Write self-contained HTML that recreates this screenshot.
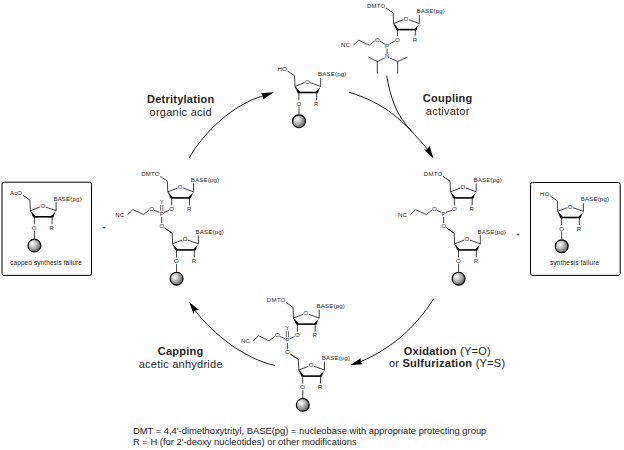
<!DOCTYPE html>
<html><head><meta charset="utf-8">
<style>
html,body{margin:0;padding:0;background:#fff;}
body{width:624px;height:450px;overflow:hidden;position:relative;}
svg{position:absolute;left:0;top:0;}
text{font-family:"Liberation Sans",sans-serif;stroke:none;}
.sl{fill:#2a2a2a;}
</style></head><body>
<svg width="624" height="450" viewBox="0 0 624 450">
<defs>
<radialGradient id="bg" cx="0.42" cy="0.42" r="0.62" fx="0.33" fy="0.33">
<stop offset="0" stop-color="#fafafa"/>
<stop offset="0.3" stop-color="#d8d8d8"/>
<stop offset="0.75" stop-color="#8a8a8a"/>
<stop offset="1" stop-color="#404040"/>
</radialGradient>
</defs>
<rect x="2" y="182.2" width="89.5" height="93.2" rx="2" fill="none" stroke="#000" stroke-width="1"/>
<rect x="530.5" y="182.5" width="89.7" height="92.9" rx="2" fill="none" stroke="#000" stroke-width="1"/>
<g fill="none" stroke="#000" stroke-linecap="butt" stroke-linejoin="miter">
<path d="M393.60,23.50 L403.20,19.80" stroke-width="0.75"/>
<path d="M408.90,19.80 L419.30,23.50" stroke-width="0.75"/>
<text x="406.08" y="20.92" font-size="6.1" letter-spacing="0.17" text-anchor="middle" class="sl">O</text>
<path d="M393.80,23.37 L398.60,28.90 L396.40,30.30 L393.40,23.63Z" fill="#000" stroke="none"/>
<path d="M419.10,23.37 L416.50,30.30 L414.30,28.90 L419.50,23.63Z" fill="#000" stroke="none"/>
<path d="M397.20,29.60 L415.70,29.60" stroke-width="1.6"/>
<path d="M393.60,23.50 L393.10,12.80 L386.10,8.10" stroke-width="0.75"/>
<text x="385.47" y="7.92" font-size="6.1" letter-spacing="0.17" text-anchor="end" class="sl">DMTO</text>
<path d="M419.30,23.50 L419.30,15.10" stroke-width="0.75"/>
<text x="416.60" y="13.42" font-size="6.1" letter-spacing="0.17" text-anchor="start" class="sl">BASE(pg)</text>
<path d="M415.40,29.60 L415.20,35.90" stroke-width="0.75"/>
<text x="414.99" y="41.72" font-size="6.1" letter-spacing="0.17" text-anchor="middle" class="sl">R</text>
<path d="M397.50,29.60 L397.50,35.90" stroke-width="0.75"/>
<text x="397.49" y="41.62" font-size="6.1" letter-spacing="0.17" text-anchor="middle" class="sl">O</text>
<text x="387.19" y="47.92" font-size="6.1" letter-spacing="0.17" text-anchor="middle" class="sl">P</text>
<path d="M389.40,44.10 L394.80,41.10" stroke-width="0.75"/>
<text x="377.49" y="41.72" font-size="6.1" letter-spacing="0.17" text-anchor="middle" class="sl">O</text>
<path d="M384.80,44.10 L379.80,40.90" stroke-width="0.75"/>
<path d="M374.80,40.90 L369.30,45.20 L358.70,40.20 L353.40,45.20" stroke-width="0.75"/>
<text x="345.69" y="47.42" font-size="6.1" letter-spacing="0.17" text-anchor="middle" class="sl">NC</text>
<path d="M387.10,48.50 L387.10,53.70" stroke-width="0.75"/>
<text x="387.19" y="58.42" font-size="6.1" letter-spacing="0.17" text-anchor="middle" class="sl">N</text>
<path d="M384.60,58.00 L377.30,61.50" stroke-width="0.75"/>
<path d="M368.40,57.10 L377.30,61.50 L377.30,73.70" stroke-width="0.75"/>
<path d="M389.60,58.00 L397.70,61.50" stroke-width="0.75"/>
<path d="M407.50,57.10 L397.70,61.50 L397.70,73.70" stroke-width="0.75"/>
<path d="M295.00,86.40 L304.60,82.70" stroke-width="0.75"/>
<path d="M310.30,82.70 L320.70,86.40" stroke-width="0.75"/>
<text x="307.48" y="83.82" font-size="6.1" letter-spacing="0.17" text-anchor="middle" class="sl">O</text>
<path d="M295.20,86.27 L300.00,91.80 L297.80,93.20 L294.80,86.53Z" fill="#000" stroke="none"/>
<path d="M320.50,86.27 L317.90,93.20 L315.70,91.80 L320.90,86.53Z" fill="#000" stroke="none"/>
<path d="M298.60,92.50 L317.10,92.50" stroke-width="1.6"/>
<path d="M295.00,86.40 L294.50,75.70 L287.50,71.00" stroke-width="0.75"/>
<text x="286.87" y="70.82" font-size="6.1" letter-spacing="0.17" text-anchor="end" class="sl">HO</text>
<path d="M320.70,86.40 L320.70,78.00" stroke-width="0.75"/>
<text x="318.00" y="76.32" font-size="6.1" letter-spacing="0.17" text-anchor="start" class="sl">BASE(pg)</text>
<path d="M316.80,92.50 L316.60,100.00" stroke-width="0.75"/>
<text x="316.38" y="105.82" font-size="6.1" letter-spacing="0.17" text-anchor="middle" class="sl">R</text>
<path d="M298.90,92.50 L298.90,100.00" stroke-width="0.75"/>
<text x="298.88" y="105.72" font-size="6.1" letter-spacing="0.17" text-anchor="middle" class="sl">O</text>
<path d="M299.00,106.50 L299.00,114.50" stroke-width="0.75"/>
<circle cx="299.00" cy="121.30" r="6.45" fill="url(#bg)" stroke="#000" stroke-width="1.1"/>
<path d="M167.80,191.80 L177.40,188.10" stroke-width="0.75"/>
<path d="M183.10,188.10 L193.50,191.80" stroke-width="0.75"/>
<text x="180.29" y="189.22" font-size="6.1" letter-spacing="0.17" text-anchor="middle" class="sl">O</text>
<path d="M168.00,191.67 L172.80,197.20 L170.60,198.60 L167.60,191.93Z" fill="#000" stroke="none"/>
<path d="M193.30,191.67 L190.70,198.60 L188.50,197.20 L193.70,191.93Z" fill="#000" stroke="none"/>
<path d="M171.40,197.90 L189.90,197.90" stroke-width="1.6"/>
<path d="M167.80,191.80 L167.30,181.10 L160.30,176.40" stroke-width="0.75"/>
<text x="159.67" y="176.22" font-size="6.1" letter-spacing="0.17" text-anchor="end" class="sl">DMTO</text>
<path d="M193.50,191.80 L193.50,183.40" stroke-width="0.75"/>
<text x="190.80" y="181.72" font-size="6.1" letter-spacing="0.17" text-anchor="start" class="sl">BASE(pg)</text>
<path d="M189.60,197.90 L189.40,205.40" stroke-width="0.75"/>
<text x="189.19" y="211.22" font-size="6.1" letter-spacing="0.17" text-anchor="middle" class="sl">R</text>
<path d="M171.70,197.90 L171.70,205.40" stroke-width="0.75"/>
<text x="171.69" y="211.12" font-size="6.1" letter-spacing="0.17" text-anchor="middle" class="sl">O</text>
<text x="161.84" y="216.22" font-size="6.1" letter-spacing="0.17" text-anchor="middle" class="sl">P</text>
<path d="M164.05,212.40 L169.00,210.50" stroke-width="0.75"/>
<text x="151.69" y="211.12" font-size="6.1" letter-spacing="0.17" text-anchor="middle" class="sl">O</text>
<path d="M159.45,212.40 L154.00,210.30" stroke-width="0.75"/>
<path d="M149.00,210.30 L143.50,214.60 L132.90,209.60 L127.60,214.60" stroke-width="0.75"/>
<text x="119.89" y="216.82" font-size="6.1" letter-spacing="0.17" text-anchor="middle" class="sl">NC</text>
<text x="161.84" y="204.22" font-size="6.1" letter-spacing="0.17" text-anchor="middle" class="sl">Y</text>
<path d="M160.65,205.00 L160.65,210.70" stroke-width="0.6"/>
<path d="M162.85,205.00 L162.85,210.70" stroke-width="0.6"/>
<path d="M161.75,216.80 L161.75,223.20" stroke-width="0.75"/>
<text x="161.84" y="228.22" font-size="6.1" letter-spacing="0.17" text-anchor="middle" class="sl">O</text>
<path d="M172.60,243.80 L182.20,240.10" stroke-width="0.75"/>
<path d="M187.90,240.10 L198.30,243.80" stroke-width="0.75"/>
<text x="185.09" y="241.22" font-size="6.1" letter-spacing="0.17" text-anchor="middle" class="sl">O</text>
<path d="M172.80,243.67 L177.60,249.20 L175.40,250.60 L172.40,243.93Z" fill="#000" stroke="none"/>
<path d="M198.10,243.67 L195.50,250.60 L193.30,249.20 L198.50,243.93Z" fill="#000" stroke="none"/>
<path d="M176.20,249.90 L194.70,249.90" stroke-width="1.6"/>
<path d="M172.60,243.80 L172.10,233.10 L165.10,228.40" stroke-width="0.75"/>
<path d="M198.30,243.80 L198.30,235.40" stroke-width="0.75"/>
<text x="195.60" y="233.72" font-size="6.1" letter-spacing="0.17" text-anchor="start" class="sl">BASE(pg)</text>
<path d="M194.40,249.90 L194.20,257.40" stroke-width="0.75"/>
<text x="193.99" y="263.22" font-size="6.1" letter-spacing="0.17" text-anchor="middle" class="sl">R</text>
<path d="M176.50,249.90 L176.50,257.40" stroke-width="0.75"/>
<text x="176.49" y="263.12" font-size="6.1" letter-spacing="0.17" text-anchor="middle" class="sl">O</text>
<path d="M176.60,263.90 L176.60,271.90" stroke-width="0.75"/>
<circle cx="176.60" cy="278.70" r="6.45" fill="url(#bg)" stroke="#000" stroke-width="1.1"/>
<path d="M164.35,227.70 L172.00,233.10" stroke-width="0.75"/>
<path d="M450.50,191.80 L460.10,188.10" stroke-width="0.75"/>
<path d="M465.80,188.10 L476.20,191.80" stroke-width="0.75"/>
<text x="462.98" y="189.22" font-size="6.1" letter-spacing="0.17" text-anchor="middle" class="sl">O</text>
<path d="M450.70,191.67 L455.50,197.20 L453.30,198.60 L450.30,191.93Z" fill="#000" stroke="none"/>
<path d="M476.00,191.67 L473.40,198.60 L471.20,197.20 L476.40,191.93Z" fill="#000" stroke="none"/>
<path d="M454.10,197.90 L472.60,197.90" stroke-width="1.6"/>
<path d="M450.50,191.80 L450.00,181.10 L443.00,176.40" stroke-width="0.75"/>
<text x="442.37" y="176.22" font-size="6.1" letter-spacing="0.17" text-anchor="end" class="sl">DMTO</text>
<path d="M476.20,191.80 L476.20,183.40" stroke-width="0.75"/>
<text x="473.50" y="181.72" font-size="6.1" letter-spacing="0.17" text-anchor="start" class="sl">BASE(pg)</text>
<path d="M472.30,197.90 L472.10,205.40" stroke-width="0.75"/>
<text x="471.88" y="211.22" font-size="6.1" letter-spacing="0.17" text-anchor="middle" class="sl">R</text>
<path d="M454.40,197.90 L454.40,205.40" stroke-width="0.75"/>
<text x="454.38" y="211.12" font-size="6.1" letter-spacing="0.17" text-anchor="middle" class="sl">O</text>
<text x="443.69" y="216.22" font-size="6.1" letter-spacing="0.17" text-anchor="middle" class="sl">P</text>
<path d="M445.90,212.40 L451.70,210.50" stroke-width="0.75"/>
<text x="434.38" y="211.12" font-size="6.1" letter-spacing="0.17" text-anchor="middle" class="sl">O</text>
<path d="M441.30,212.40 L436.70,210.30" stroke-width="0.75"/>
<path d="M431.70,210.30 L426.20,214.60 L415.60,209.60 L410.30,214.60" stroke-width="0.75"/>
<text x="402.58" y="216.82" font-size="6.1" letter-spacing="0.17" text-anchor="middle" class="sl">NC</text>
<path d="M443.60,216.80 L443.60,223.20" stroke-width="0.75"/>
<text x="443.69" y="228.22" font-size="6.1" letter-spacing="0.17" text-anchor="middle" class="sl">O</text>
<path d="M454.60,243.80 L464.20,240.10" stroke-width="0.75"/>
<path d="M469.90,240.10 L480.30,243.80" stroke-width="0.75"/>
<text x="467.08" y="241.22" font-size="6.1" letter-spacing="0.17" text-anchor="middle" class="sl">O</text>
<path d="M454.80,243.67 L459.60,249.20 L457.40,250.60 L454.40,243.93Z" fill="#000" stroke="none"/>
<path d="M480.10,243.67 L477.50,250.60 L475.30,249.20 L480.50,243.93Z" fill="#000" stroke="none"/>
<path d="M458.20,249.90 L476.70,249.90" stroke-width="1.6"/>
<path d="M454.60,243.80 L454.10,233.10 L447.10,228.40" stroke-width="0.75"/>
<path d="M480.30,243.80 L480.30,235.40" stroke-width="0.75"/>
<text x="477.60" y="233.72" font-size="6.1" letter-spacing="0.17" text-anchor="start" class="sl">BASE(pg)</text>
<path d="M476.40,249.90 L476.20,257.40" stroke-width="0.75"/>
<text x="475.99" y="263.22" font-size="6.1" letter-spacing="0.17" text-anchor="middle" class="sl">R</text>
<path d="M458.50,249.90 L458.50,257.40" stroke-width="0.75"/>
<text x="458.49" y="263.12" font-size="6.1" letter-spacing="0.17" text-anchor="middle" class="sl">O</text>
<path d="M458.60,263.90 L458.60,271.90" stroke-width="0.75"/>
<circle cx="458.60" cy="278.70" r="6.45" fill="url(#bg)" stroke="#000" stroke-width="1.1"/>
<path d="M446.20,227.70 L454.00,233.10" stroke-width="0.75"/>
<path d="M293.50,318.00 L303.10,314.30" stroke-width="0.75"/>
<path d="M308.80,314.30 L319.20,318.00" stroke-width="0.75"/>
<text x="305.98" y="315.42" font-size="6.1" letter-spacing="0.17" text-anchor="middle" class="sl">O</text>
<path d="M293.70,317.87 L298.50,323.40 L296.30,324.80 L293.30,318.13Z" fill="#000" stroke="none"/>
<path d="M319.00,317.87 L316.40,324.80 L314.20,323.40 L319.40,318.13Z" fill="#000" stroke="none"/>
<path d="M297.10,324.10 L315.60,324.10" stroke-width="1.6"/>
<path d="M293.50,318.00 L293.00,307.30 L286.00,302.60" stroke-width="0.75"/>
<text x="285.37" y="302.42" font-size="6.1" letter-spacing="0.17" text-anchor="end" class="sl">DMTO</text>
<path d="M319.20,318.00 L319.20,309.60" stroke-width="0.75"/>
<text x="316.50" y="307.92" font-size="6.1" letter-spacing="0.17" text-anchor="start" class="sl">BASE(pg)</text>
<path d="M315.30,324.10 L315.10,331.60" stroke-width="0.75"/>
<text x="314.88" y="337.42" font-size="6.1" letter-spacing="0.17" text-anchor="middle" class="sl">R</text>
<path d="M297.40,324.10 L297.40,331.60" stroke-width="0.75"/>
<text x="297.38" y="337.32" font-size="6.1" letter-spacing="0.17" text-anchor="middle" class="sl">O</text>
<text x="287.48" y="342.42" font-size="6.1" letter-spacing="0.17" text-anchor="middle" class="sl">P</text>
<path d="M289.70,338.60 L294.70,336.70" stroke-width="0.75"/>
<text x="277.38" y="337.32" font-size="6.1" letter-spacing="0.17" text-anchor="middle" class="sl">O</text>
<path d="M285.10,338.60 L279.70,336.50" stroke-width="0.75"/>
<path d="M274.70,336.50 L269.20,340.80 L258.60,335.80 L253.30,340.80" stroke-width="0.75"/>
<text x="245.59" y="343.02" font-size="6.1" letter-spacing="0.17" text-anchor="middle" class="sl">NC</text>
<text x="287.48" y="330.42" font-size="6.1" letter-spacing="0.17" text-anchor="middle" class="sl">Y</text>
<path d="M286.30,331.20 L286.30,336.90" stroke-width="0.6"/>
<path d="M288.50,331.20 L288.50,336.90" stroke-width="0.6"/>
<path d="M287.40,343.00 L287.40,349.40" stroke-width="0.75"/>
<text x="287.48" y="354.42" font-size="6.1" letter-spacing="0.17" text-anchor="middle" class="sl">O</text>
<path d="M298.80,370.00 L308.40,366.30" stroke-width="0.75"/>
<path d="M314.10,366.30 L324.50,370.00" stroke-width="0.75"/>
<text x="311.28" y="367.42" font-size="6.1" letter-spacing="0.17" text-anchor="middle" class="sl">O</text>
<path d="M299.00,369.87 L303.80,375.40 L301.60,376.80 L298.60,370.13Z" fill="#000" stroke="none"/>
<path d="M324.30,369.87 L321.70,376.80 L319.50,375.40 L324.70,370.13Z" fill="#000" stroke="none"/>
<path d="M302.40,376.10 L320.90,376.10" stroke-width="1.6"/>
<path d="M298.80,370.00 L298.30,359.30 L291.30,354.60" stroke-width="0.75"/>
<path d="M324.50,370.00 L324.50,361.60" stroke-width="0.75"/>
<text x="321.80" y="359.92" font-size="6.1" letter-spacing="0.17" text-anchor="start" class="sl">BASE(pg)</text>
<path d="M320.60,376.10 L320.40,383.60" stroke-width="0.75"/>
<text x="320.19" y="389.42" font-size="6.1" letter-spacing="0.17" text-anchor="middle" class="sl">R</text>
<path d="M302.70,376.10 L302.70,383.60" stroke-width="0.75"/>
<text x="302.69" y="389.32" font-size="6.1" letter-spacing="0.17" text-anchor="middle" class="sl">O</text>
<path d="M302.80,390.10 L302.80,398.10" stroke-width="0.75"/>
<circle cx="302.80" cy="404.90" r="6.45" fill="url(#bg)" stroke="#000" stroke-width="1.1"/>
<path d="M290.00,353.90 L298.20,359.30" stroke-width="0.75"/>
<path d="M30.40,210.70 L40.00,207.00" stroke-width="0.75"/>
<path d="M45.70,207.00 L56.10,210.70" stroke-width="0.75"/>
<text x="42.88" y="208.12" font-size="6.1" letter-spacing="0.17" text-anchor="middle" class="sl">O</text>
<path d="M30.60,210.57 L35.40,216.10 L33.20,217.50 L30.20,210.83Z" fill="#000" stroke="none"/>
<path d="M55.90,210.57 L53.30,217.50 L51.10,216.10 L56.30,210.83Z" fill="#000" stroke="none"/>
<path d="M34.00,216.80 L52.50,216.80" stroke-width="1.6"/>
<path d="M30.40,210.70 L29.90,200.00 L22.90,195.30" stroke-width="0.75"/>
<text x="22.27" y="195.12" font-size="6.1" letter-spacing="0.17" text-anchor="end" class="sl">AcO</text>
<path d="M56.10,210.70 L56.10,202.30" stroke-width="0.75"/>
<text x="53.40" y="200.62" font-size="6.1" letter-spacing="0.17" text-anchor="start" class="sl">BASE(pg)</text>
<path d="M52.20,216.80 L52.00,224.30" stroke-width="0.75"/>
<text x="51.79" y="230.12" font-size="6.1" letter-spacing="0.17" text-anchor="middle" class="sl">R</text>
<path d="M34.30,216.80 L34.30,224.30" stroke-width="0.75"/>
<text x="34.28" y="230.02" font-size="6.1" letter-spacing="0.17" text-anchor="middle" class="sl">O</text>
<path d="M34.40,230.80 L34.40,238.80" stroke-width="0.75"/>
<circle cx="34.40" cy="245.60" r="6.45" fill="url(#bg)" stroke="#000" stroke-width="1.1"/>
<path d="M557.70,211.40 L567.30,207.70" stroke-width="0.75"/>
<path d="M573.00,207.70 L583.40,211.40" stroke-width="0.75"/>
<text x="570.19" y="208.82" font-size="6.1" letter-spacing="0.17" text-anchor="middle" class="sl">O</text>
<path d="M557.90,211.27 L562.70,216.80 L560.50,218.20 L557.50,211.53Z" fill="#000" stroke="none"/>
<path d="M583.20,211.27 L580.60,218.20 L578.40,216.80 L583.60,211.53Z" fill="#000" stroke="none"/>
<path d="M561.30,217.50 L579.80,217.50" stroke-width="1.6"/>
<path d="M557.70,211.40 L557.20,200.70 L550.20,196.00" stroke-width="0.75"/>
<text x="549.57" y="195.82" font-size="6.1" letter-spacing="0.17" text-anchor="end" class="sl">HO</text>
<path d="M583.40,211.40 L583.40,203.00" stroke-width="0.75"/>
<text x="580.70" y="201.32" font-size="6.1" letter-spacing="0.17" text-anchor="start" class="sl">BASE(pg)</text>
<path d="M579.50,217.50 L579.30,225.00" stroke-width="0.75"/>
<text x="579.09" y="230.82" font-size="6.1" letter-spacing="0.17" text-anchor="middle" class="sl">R</text>
<path d="M561.60,217.50 L561.60,225.00" stroke-width="0.75"/>
<text x="561.59" y="230.72" font-size="6.1" letter-spacing="0.17" text-anchor="middle" class="sl">O</text>
<path d="M561.70,231.50 L561.70,239.50" stroke-width="0.75"/>
<circle cx="561.70" cy="246.30" r="6.45" fill="url(#bg)" stroke="#000" stroke-width="1.1"/>
</g>
<text x="46.1" y="265.2" font-size="6.5" letter-spacing="0.09" text-anchor="middle" fill="#1a1a1a">capped synthesis failure</text>
<text x="574.7" y="265.3" font-size="6.5" letter-spacing="0.16" text-anchor="middle" fill="#1a1a1a">synthesis failure</text>
<text x="104" y="229" font-size="6" text-anchor="middle">+</text>
<text x="518" y="235.5" font-size="6" text-anchor="middle">+</text>
<g fill="none" stroke="#000" stroke-width="0.9">
<path d="M189.2,157.8 C204.1,131.9 232.6,104.9 263,95.8"/>
<path d="M349.0,92.2 C386.2,103.8 402.3,119.6 428,149.8"/>
<path d="M386.7,75.6 C390.5,98.2 396.3,114.8 412.0,132.0"/>
<path d="M433.6,298.7 C415.3,328.0 391.5,348.3 360.8,361.6"/>
<path d="M274.9,365.4 C245.0,359.0 213.2,334.2 195.0,310.5"/>
</g>
<g fill="#000" stroke="none">
<path d="M274,92.2 L261,93.3 L262.7,95.7 L263.3,99.3 Z"/>
<path d="M433.5,158.5 L424.1,149.5 L427.3,149.5 L429.5,146 Z"/>
<path d="M350,365.3 L360.7,358.3 L360.6,361.6 L362.7,364.3 Z"/>
<path d="M189.2,302.1 L199.1,310.1 L194.8,310.4 L193.5,313.9 Z"/>
</g>
<g font-size="11" text-anchor="middle" letter-spacing="0.25" fill="#1e1e1e">
<text x="180.7" y="102.7" font-weight="bold">Detritylation</text>
<text x="180.7" y="115.6">organic acid</text>
<text x="447.7" y="102.4" font-weight="bold">Coupling</text>
<text x="447.7" y="115.4">activator</text>
<text x="180.7" y="354.8" font-weight="bold">Capping</text>
<text x="180.7" y="367.7">acetic anhydride</text>
<text x="447.3" y="354.9"><tspan font-weight="bold">Oxidation</tspan> (Y=O)</text>
<text x="447.1" y="367">or <tspan font-weight="bold">Sulfurization</tspan> (Y=S)</text>
</g>
<g font-size="9.37" fill="#222">
<text x="133" y="433.6">DMT = 4,4'-dimethoxytrityl, BASE(pg) = nucleobase with appropriate protecting group</text>
<text x="133" y="444.8">R = H (for 2'-deoxy nucleotides) or other modifications</text>
</g>
</svg>
</body></html>
